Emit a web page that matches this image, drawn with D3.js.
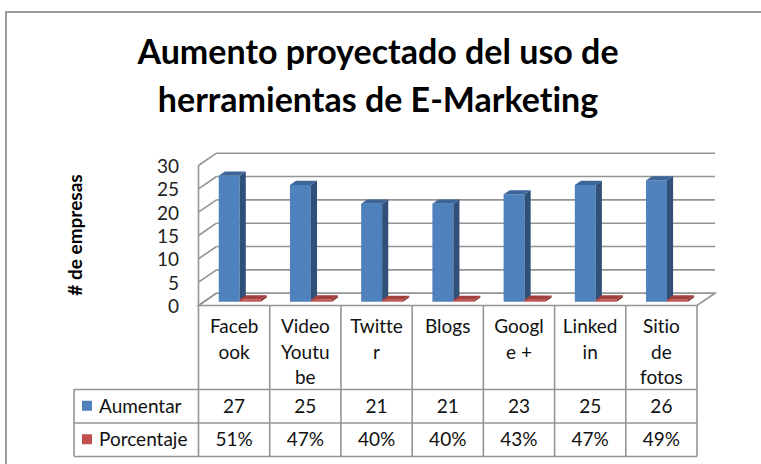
<!DOCTYPE html>
<html>
<head>
<meta charset="utf-8">
<script src="https://cdn.jsdelivr.net/npm/d3@7"></script>
<style>
  body { margin: 0; background: #fff; }
  svg { display: block; font-family: Lato, "Open Sans", sans-serif; font-variant-ligatures: none; }
</style>
</head>
<body>
<div id="wrapper"></div>
<script>
// data
const categories = ["Facebook", "Video Youtube", "Twitter", "Blogs", "Google +", "Linkedin", "Sitio de fotos"];
const categoryLines = [["Faceb", "ook"], ["Video", "Youtu", "be"], ["Twitte", "r"], ["Blogs"], ["Googl", "e +"], ["Linked", "in"], ["Sitio", "de", "fotos"]];
const seriesNames = ["Aumentar", "Porcentaje"];
const aumentar = [27, 25, 21, 21, 23, 25, 26];
const porcentaje = [0.51, 0.47, 0.40, 0.40, 0.43, 0.47, 0.49];
const yTicks = [0, 5, 10, 15, 20, 25, 30];
const titleLines = ["Aumento proyectado del uso de", "herramientas de E-Marketing"];

let dimensions = {
  width: 761,
  height: 464
}

const colors = {
  Aumentar: { front: "#4f81bd", top: "#3d6598", side: "#2f5079" },
  Porcentaje: { front: "#c0504d", top: "#a33f3c", side: "#8a3230" }
};
const lineColor = "#949494";

let wrapper = d3.select("#wrapper").append("svg")
  .attr("width", dimensions.width)
  .attr("height", dimensions.height);

// chart area frame
wrapper.append("path")
  .attr("d", `M6,${dimensions.height + 5} V12 H${dimensions.width + 5}`)
  .attr("fill", "none")
  .attr("stroke", "#9a9a9a")
  .attr("stroke-width", 2);

// Title
wrapper.selectAll(".title")
  .data(titleLines)
  .enter()
  .append("text")
  .attr("class", "title")
  .attr("x", 378)
  .attr("y", (d, i) => 64 + i * 47.5)
  .attr("text-anchor", "middle")
  .style("font-weight", "bold")
  .style("font-size", "34px")
  .text(d => d);

// scales
const x0 = d3.scaleBand()
  .domain(categories)
  .range([198.5, 697])
  .padding(0);

const x1 = d3.scaleBand()
  .domain(seriesNames)
  .range([0, x0.bandwidth()])
  .paddingInner(0)
  .paddingOuter(0.7);

const y = d3.scaleLinear()
  .domain([0, 30])
  .range([305.5, 165.5]);

// depth of the 3d box
const depth = { dx: 18, dy: -12.3 };
const proj = (x, v, z) => [x + z * depth.dx, y(v) + z * depth.dy];
const poly = pts => "M" + pts.map(p => p.join(",")).join("L") + "Z";

const xL = x0.range()[0];
const xR = x0.range()[1];

const walls = wrapper.append("g")
  .attr("fill", "none")
  .attr("stroke", lineColor)
  .attr("stroke-width", 1.6);

// floor
walls.append("path")
  .attr("d", poly([proj(xL, 0, 0), proj(xR, 0, 0), proj(xR, 0, 1), proj(xL, 0, 1)]));

// back wall gridlines
walls.selectAll(".grid")
  .data(yTicks)
  .enter()
  .append("line")
  .attr("class", "grid")
  .attr("x1", d => proj(xL, d, 1)[0])
  .attr("y1", d => proj(xL, d, 1)[1])
  .attr("x2", d => proj(xR, d, 1)[0])
  .attr("y2", d => proj(xR, d, 1)[1]);

// side wall gridlines
walls.selectAll(".sidegrid")
  .data(yTicks)
  .enter()
  .append("line")
  .attr("class", "sidegrid")
  .attr("x1", d => proj(xL, d, 0)[0])
  .attr("y1", d => proj(xL, d, 0)[1])
  .attr("x2", d => proj(xL, d, 1)[0])
  .attr("y2", d => proj(xL, d, 1)[1]);

walls.append("line")
  .attr("x1", proj(xL, 0, 0)[0])
  .attr("y1", proj(xL, 0, 0)[1])
  .attr("x2", proj(xL, 30, 0)[0])
  .attr("y2", proj(xL, 30, 0)[1]);

// y tick labels
wrapper.selectAll(".ytick")
  .data(yTicks)
  .enter()
  .append("text")
  .attr("class", "ytick")
  .attr("x", 179)
  .attr("y", d => y(d) + 1)
  .attr("dy", "0.35em")
  .attr("text-anchor", "end")
  .style("font-size", "19px")
  .style("fill", "#222")
  .text(d => d);

// Y label
wrapper.append("text")
  .attr("transform", "translate(82, 235) rotate(-90)")
  .attr("text-anchor", "middle")
  .style("font-weight", "bold")
  .style("font-size", "19px")
  .text("# de empresas");

// bars
const z0 = 0.31, z1 = 0.65;
const barData = [];
categories.forEach((c, i) => {
  barData.push({ cat: c, series: "Aumentar", value: aumentar[i] });
  barData.push({ cat: c, series: "Porcentaje", value: porcentaje[i] });
});

const bars = wrapper.selectAll(".bar")
  .data(barData)
  .enter()
  .append("g")
  .attr("class", "bar");

bars.each(function (d) {
  const g = d3.select(this);
  const a = x0(d.cat) + x1(d.series);
  const b = a + x1.bandwidth();
  const col = colors[d.series];
  g.append("path")
    .attr("d", poly([proj(a, 0, z0), proj(b, 0, z0), proj(b, d.value, z0), proj(a, d.value, z0)]))
    .attr("fill", col.front);
  g.append("path")
    .attr("d", poly([proj(b, 0, z0), proj(b, 0, z1), proj(b, d.value, z1), proj(b, d.value, z0)]))
    .attr("fill", col.side);
  g.append("path")
    .attr("d", poly([proj(a, d.value, z0), proj(b, d.value, z0), proj(b, d.value, z1), proj(a, d.value, z1)]))
    .attr("fill", col.top);
});

// data table
const rowTop = 305.5, rowHead = 389.5, rowA = 423, rowB = 456.5;
const legendLeft = 74;
const table = wrapper.append("g")
  .attr("stroke", lineColor)
  .attr("stroke-width", 1.6);

const colEdges = categories.map(c => x0(c)).concat([xR]);
table.selectAll(".vline")
  .data(colEdges)
  .enter()
  .append("line")
  .attr("x1", d => d).attr("x2", d => d)
  .attr("y1", rowTop).attr("y2", rowB);

table.selectAll(".hline")
  .data([rowHead, rowA, rowB])
  .enter()
  .append("line")
  .attr("x1", legendLeft).attr("x2", xR)
  .attr("y1", d => d).attr("y2", d => d);

table.append("line")
  .attr("x1", legendLeft).attr("x2", legendLeft)
  .attr("y1", rowHead).attr("y2", rowB);

// category header text
const heads = wrapper.selectAll(".cat")
  .data(categories)
  .enter()
  .append("text")
  .attr("class", "cat")
  .attr("text-anchor", "middle")
  .style("font-size", "19px")
  .style("fill", "#111");

heads.selectAll("tspan")
  .data((d, i) => categoryLines[i].map(t => ({ t, c: d })))
  .enter()
  .append("tspan")
  .attr("x", d => x0(d.c) + x0.bandwidth() / 2)
  .attr("y", (d, i) => 333 + i * 25.6)
  .text(d => d.t);

// legend keys + values
const rows = [
  { name: "Aumentar", values: aumentar, fmt: d => d, mid: (rowHead + rowA) / 2 },
  { name: "Porcentaje", values: porcentaje, fmt: d3.format(".0%"), mid: (rowA + rowB) / 2 }
];

rows.forEach(r => {
  wrapper.append("rect")
    .attr("x", 82)
    .attr("y", r.mid - 5.5)
    .attr("width", 10)
    .attr("height", 10)
    .attr("fill", colors[r.name].front);
  wrapper.append("text")
    .attr("x", 99)
    .attr("y", r.mid)
    .attr("dy", "0.35em")
    .style("font-size", "19px")
    .style("fill", "#111")
    .text(r.name);
  wrapper.selectAll(".val-" + r.name)
    .data(r.values)
    .enter()
    .append("text")
    .attr("x", (d, i) => x0(categories[i]) + x0.bandwidth() / 2)
    .attr("y", r.mid)
    .attr("dy", "0.35em")
    .attr("text-anchor", "middle")
    .style("font-size", "19px")
    .style("fill", "#111")
    .text(d => r.fmt(d));
});
</script>
</body>
</html>
